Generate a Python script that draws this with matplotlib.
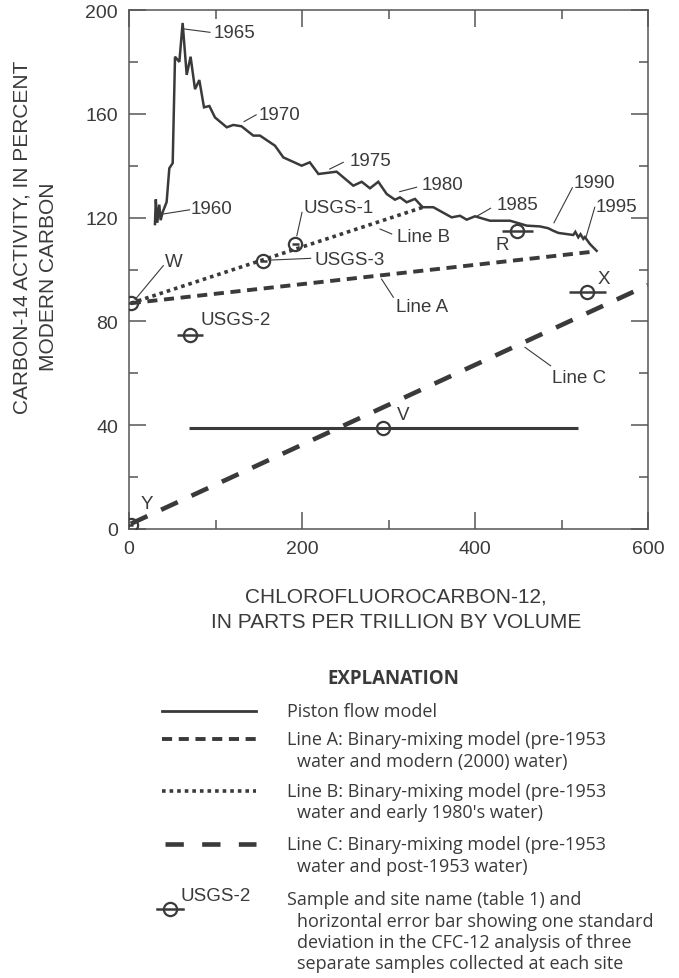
import matplotlib
matplotlib.use("Agg")
import matplotlib.pyplot as plt
from matplotlib.lines import Line2D

# ---------- data ----------
# piston flow model curve (CFC-12 pptv, C-14 pmc), 1960 -> 1995
piston_cfc = [30, 31, 32.7, 35, 36.6, 38.8, 43.5, 46.6, 50.5, 53.2, 58.2, 62, 66.7,
              71.2, 76.3, 81.3, 86.7, 92.9, 99.4, 113, 120.6, 130, 143.7, 151.4,
              168.8, 178.4, 199.6, 209, 219, 240, 259.3, 269, 278.6, 288.2, 297.9,
              307.5, 313.3, 321, 330.6, 339.5, 351.8, 373, 382.7, 390.4, 400, 417.3,
              440.5, 459.8, 475.1, 484.7, 490, 496.3, 513.6, 516, 519.4, 522, 525.2,
              527, 532.9, 540.6]
piston_c14 = [117.5, 127, 118, 125, 119, 122, 126, 139, 141, 182, 180, 195, 175,
              182, 169.5, 173, 162.5, 163, 158.6, 154.8, 155.7, 155.2, 151.6, 151.6,
              147.7, 143.2, 140, 141.3, 136.8, 137.7, 132.3, 133.8, 131.3, 133.8, 129.1,
              126.9, 127.8, 125.9, 127.2, 124, 124, 120.1, 120.7, 119.2, 120.5, 118.8,
              118.8, 116.9, 116.6, 115.9, 115.0, 114.1, 113.3, 114.5, 112.4, 113.6, 111.8,
              112.5, 109.8, 107.2]

# binary mixing lines (end points)
lineA_cfc = [2, 540]
lineA_c14 = [87, 107]
lineB_cfc = [2, 340]
lineB_c14 = [87, 124]
lineC_cfc = [2, 600]
lineC_c14 = [2, 94]

# samples
site_names = ["W", "USGS-3", "USGS-1", "USGS-2", "R", "X", "V", "Y"]
site_cfc = [2, 155, 192, 70, 449, 530, 294, 2]
site_cfc_sd = [3, 4, 4, 15, 18, 21, 225, 3]
site_c14 = [87, 103.4, 109.8, 74.8, 115, 91.2, 38.8, 1.7]

year_labels = ["1960", "1965", "1970", "1975", "1980", "1985", "1990", "1995"]

# ---------- layout of labels (text pos, leader start, leader end) ----------
year_layout = [
    ((71.7, 123.6), (39.7, 121.4), (70.0, 123.0)),
    ((98.3, 191.4), (63.6, 192.7), (93.6, 191.4)),
    ((149.5, 159.9), (133.0, 157.0), (147.0, 159.6)),
    ((254.7, 141.9), (232.0, 138.7), (247.7, 141.3)),
    ((338.4, 132.9), (313.0, 130.0), (332.5, 131.7)),
    ((425.0, 125.2), (402.0, 120.5), (418.0, 123.6)),
    ((513.6, 133.6), (491.3, 118.0), (512.5, 131.5)),
    ((540.0, 124.4), (528.3, 112.4), (538.5, 124.0)),
]
site_layout = {
    "W": ((41.6, 103.0), (7.0, 88.4), (39.7, 101.5)),
    "USGS-3": ((215.0, 104.0), (161.5, 103.6), (210.0, 104.3)),
    "USGS-1": ((201.5, 123.7), (194.0, 113.0), (200.0, 122.0)),
    "USGS-2": ((83.2, 80.7), None, None),
    "R": ((423.5, 109.6), None, None),
    "X": ((541.5, 96.7), None, None),
    "V": ((309.5, 44.2), None, None),
    "Y": ((13.5, 9.9), None, None),
}
line_layout = [
    ("Line A", (308.7, 85.8), (292.0, 96.3), (305.6, 89.3)),
    ("Line B", (310.0, 112.8), (290.2, 115.6), (303.7, 113.7)),
    ("Line C", (488.6, 58.5), (457.8, 70.0), (487.4, 62.9)),
]

INK = "#3a3a3a"
FONT = "Liberation Sans"
EXPL_FONT = "Open Sans"
FS = 13.5

W_PX, H_PX = 679, 979
fig = plt.figure(figsize=(W_PX / 100, H_PX / 100), dpi=100)
ax = fig.add_axes([129 / W_PX, 1 - 530 / H_PX, 519 / W_PX, 519 / H_PX])

def fx(px):
    return px / W_PX

def fy(py):
    return 1 - py / H_PX

# ---------- plot ----------
ax.plot(piston_cfc, piston_c14, color=INK, lw=1.8, solid_joinstyle="miter")
ax.plot(lineA_cfc, lineA_c14, color=INK, lw=2.8, linestyle=(0, (2.6, 1.7)))
ax.plot(lineB_cfc, lineB_c14, color=INK, lw=2.6, linestyle=(0, (1.0, 1.1)))
ax.plot(lineC_cfc, lineC_c14, color=INK, lw=3.3, linestyle=(0, (4.0, 3.3)))

for i, name in enumerate(site_names):
    lw_bar = 2.2 if name == "V" else 1.8
    ax.errorbar(site_cfc[i], site_c14[i], xerr=site_cfc_sd[i], fmt="o",
                color=INK, ms=9.5, mfc="none", mew=1.6, elinewidth=lw_bar,
                capsize=0, zorder=4)

for lab, (tpos, p0, p1) in zip(year_labels, year_layout):
    ax.plot([p0[0], p1[0]], [p0[1], p1[1]], color=INK, lw=0.8)
    ax.text(tpos[0], tpos[1], lab, ha="left", va="center", fontsize=FS,
            family=FONT, color=INK)

for name in site_names:
    tpos, p0, p1 = site_layout[name]
    if p0 is not None:
        ax.plot([p0[0], p1[0]], [p0[1], p1[1]], color=INK, lw=0.8)
    ax.text(tpos[0], tpos[1], name, ha="left", va="center", fontsize=FS,
            family=FONT, color=INK)

for lab, tpos, p0, p1 in line_layout:
    ax.plot([p0[0], p1[0]], [p0[1], p1[1]], color=INK, lw=0.8)
    ax.text(tpos[0], tpos[1], lab, ha="left", va="center", fontsize=FS,
            family=FONT, color=INK)

# ---------- axes ----------
ax.set_xlim(0, 600)
ax.set_ylim(0, 200)
ax.set_xticks([0, 200, 400, 600])
ax.set_xticks([100, 300, 500], minor=True)
ax.set_yticks([0, 40, 80, 120, 160, 200])
ax.set_yticks([20, 60, 100, 140, 180], minor=True)
ax.tick_params(which="both", direction="in", top=True, right=True,
               color="#555555", width=1.1, labelsize=14, labelcolor=INK, pad=8)
ax.tick_params(which="major", length=12)
ax.tick_params(which="minor", length=6.5)
for lbl in ax.get_xticklabels() + ax.get_yticklabels():
    lbl.set_family(FONT)
for sp in ax.spines.values():
    sp.set_color("#555555")
    sp.set_linewidth(1.1)

fig.text(fx(22), fy(237), "CARBON-14 ACTIVITY, IN PERCENT", rotation=90,
         ha="center", va="center", fontsize=15, family=FONT, color=INK)
fig.text(fx(49), fy(277), "MODERN CARBON", rotation=90,
         ha="center", va="center", fontsize=15, family=FONT, color=INK)
fig.text(fx(396), fy(597), "CHLOROFLUOROCARBON-12,", ha="center",
         va="center", fontsize=15, family=FONT, color=INK)
fig.text(fx(396), fy(623), "IN PARTS PER TRILLION BY VOLUME", ha="center",
         va="center", fontsize=15, family=FONT, color=INK)

# ---------- explanation ----------
EFS = 13.0
fig.text(fx(393), fy(679), "EXPLANATION", ha="center", va="center",
         fontsize=13.5, fontweight="bold", family=EXPL_FONT, color=INK)

x0, x1 = fx(162), fx(256)
fig.add_artist(Line2D([x0, x1], [fy(712), fy(712)], transform=fig.transFigure,
                      color=INK, lw=2.0))
fig.add_artist(Line2D([x0, x1], [fy(740), fy(740)], transform=fig.transFigure,
                      color=INK, lw=2.8, linestyle=(0, (2.6, 1.7))))
fig.add_artist(Line2D([x0, x1], [fy(792), fy(792)], transform=fig.transFigure,
                      color=INK, lw=2.6, linestyle=(0, (1.0, 1.1))))
fig.add_artist(Line2D([fx(165), x1], [fy(845), fy(845)], transform=fig.transFigure,
                      color=INK, lw=3.3, linestyle=(0, (4.0, 4.0))))
fig.add_artist(Line2D([fx(157), fx(183)], [fy(910), fy(910)],
                      transform=fig.transFigure, color=INK, lw=1.8))
fig.add_artist(Line2D([fx(170)], [fy(910)], transform=fig.transFigure,
                      color=INK, marker="o", ms=9.5, mfc="none", mew=1.6))
fig.text(fx(181), fy(897), "USGS-2", ha="left", va="center", fontsize=FS,
         family=FONT, color=INK)

expl_lines = [
    (287, 712, "Piston flow model"),
    (287, 740, "Line A: Binary-mixing model (pre-1953"),
    (297, 762, "water and modern (2000) water)"),
    (287, 792, "Line B: Binary-mixing model (pre-1953"),
    (297, 813, "water and early 1980's water)"),
    (287, 845, "Line C: Binary-mixing model (pre-1953"),
    (297, 867, "water and post-1953 water)"),
    (287, 900, "Sample and site name (table 1) and"),
    (297, 922, "horizontal error bar showing one standard"),
    (297, 943, "deviation in the CFC-12 analysis of three"),
    (297, 964, "separate samples collected at each site"),
]
for px, py, txt in expl_lines:
    fig.text(fx(px), fy(py), txt, ha="left", va="center", fontsize=EFS,
             family=EXPL_FONT, color=INK)

fig.savefig("out.png", dpi=100)
